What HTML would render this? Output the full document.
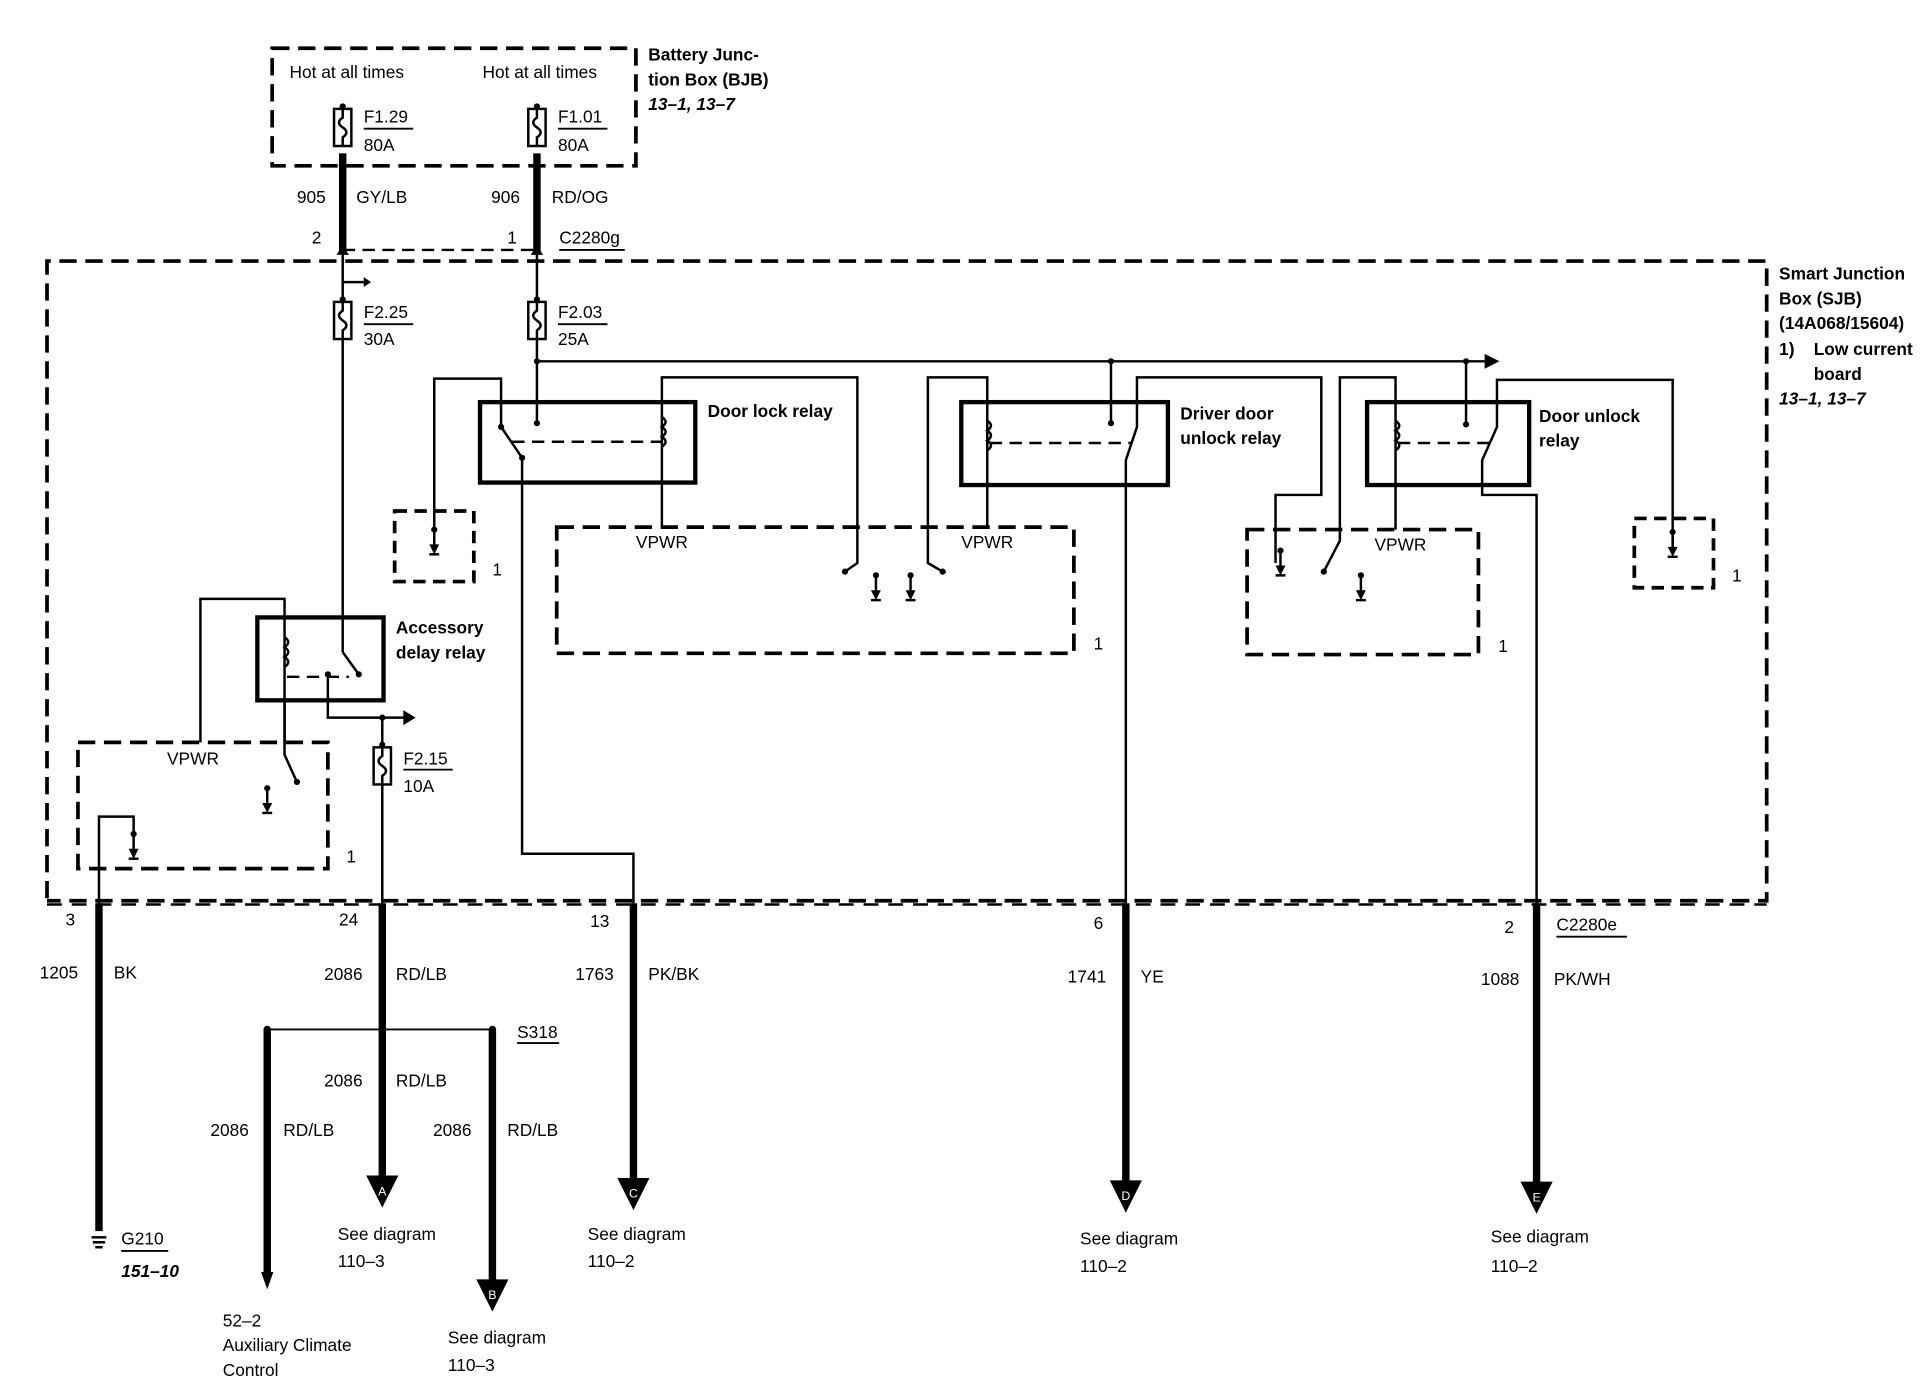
<!DOCTYPE html>
<html><head><meta charset="utf-8"><style>
html,body{margin:0;padding:0;background:#fff}
svg{display:block}
text{font-family:"Liberation Sans",sans-serif;font-size:14px;fill:#000}
.b{font-weight:bold}
.i{font-weight:bold;font-style:italic}
</style></head><body>
<svg width="1930" height="1392" viewBox="0 0 1560 1125" preserveAspectRatio="none" xmlns="http://www.w3.org/2000/svg">
<defs>
<g id="fuse"><circle cx="0" cy="-2" r="2.5" fill="#000"/><rect x="-7" y="0" width="14" height="30" fill="#fff" stroke="#000" stroke-width="2"/><path d="M0,0 V7 Q-6,11 0,15 Q6,19 0,23 V30" fill="none" stroke="#000" stroke-width="2"/></g>
<g id="gnd"><circle cx="0" cy="0" r="2.5" fill="#000"/><line x1="0" y1="0" x2="0" y2="16" stroke="#000" stroke-width="2"/><path d="M-4,12 L4,12 L0,20 Z" fill="#000"/><line x1="-4" y1="20" x2="4" y2="20" stroke="#000" stroke-width="2"/></g>
<g id="arr"><path d="M-13,0 L13,0 L0,26 Z" fill="#000"/></g>
</defs>
<g fill="none" stroke="#000">
<!-- BJB -->
<rect x="220" y="39" width="294" height="95" stroke-width="3" stroke-dasharray="14,7"/>
<!-- SJB -->
<path d="M38,726 V211 H1428 V728 H38" stroke-width="3" stroke-dasharray="14,7"/>
<line x1="38" y1="731" x2="1428" y2="731" stroke-width="2" stroke-dasharray="12,8"/>
<!-- thick feeds -->
<line x1="277" y1="124" x2="277" y2="204" stroke-width="6"/>
<line x1="434" y1="124" x2="434" y2="204" stroke-width="6"/>
<line x1="277" y1="202" x2="434" y2="202" stroke-width="2" stroke-dasharray="10,6"/>
<line x1="277" y1="204" x2="277" y2="242" stroke-width="2"/>
<line x1="434" y1="204" x2="434" y2="242" stroke-width="2"/>
<path d="M277,228 H294" stroke-width="2"/>
<!-- F2.25 line down -->
<line x1="277" y1="274" x2="277" y2="527" stroke-width="2"/>
<line x1="277" y1="527" x2="290" y2="545" stroke-width="2"/>
<!-- F2.03 bus -->
<line x1="434" y1="274" x2="434" y2="342" stroke-width="2"/>
<line x1="434" y1="292" x2="1200" y2="292" stroke-width="2"/>
<!-- Door lock relay -->
<rect x="388" y="325" width="174" height="65" stroke-width="3.5"/>
<path d="M351,442 V306 H405 V345 L422,370 V690 H512 V730" stroke-width="2"/>
<line x1="414" y1="357" x2="535" y2="357" stroke-width="2" stroke-dasharray="10,6"/>
<path d="M535,425 V305 H693 V455 L683,462" stroke-width="2"/>
<path d="M535,337 q6,4 0,8 q6,4 0,8 q6,4 0,8" stroke-width="2"/>
<rect x="319" y="413" width="64" height="57" stroke-width="3" stroke-dasharray="10,6"/>
<rect x="450" y="426" width="418" height="102" stroke-width="3" stroke-dasharray="14,7"/>
<!-- Driver door unlock -->
<rect x="777" y="325" width="167" height="67" stroke-width="3.5"/>
<path d="M798,425 V305 H750 V455 L762,462" stroke-width="2"/>
<path d="M798,340 q6,4 0,8 q6,4 0,8 q6,4 0,8" stroke-width="2"/>
<line x1="898" y1="292" x2="898" y2="342" stroke-width="2"/>
<path d="M1031,455 V400 H1068 V305 H919 V345 L910,372 V730" stroke-width="2"/>
<line x1="800" y1="358" x2="915" y2="358" stroke-width="2" stroke-dasharray="10,6"/>
<!-- Door unlock -->
<rect x="1105" y="325" width="131" height="67" stroke-width="3.5"/>
<path d="M1128,428 V305 H1083 V437 L1070,462" stroke-width="2"/>
<path d="M1128,340 q6,4 0,8 q6,4 0,8 q6,4 0,8" stroke-width="2"/>
<line x1="1185" y1="292" x2="1185" y2="343" stroke-width="2"/>
<path d="M1352,444 V307 H1210 V345 L1198,372 V400 H1242 V730" stroke-width="2"/>
<line x1="1130" y1="358" x2="1205" y2="358" stroke-width="2" stroke-dasharray="10,6"/>
<rect x="1008" y="428" width="187" height="101" stroke-width="3" stroke-dasharray="14,7"/>
<rect x="1321" y="419" width="64" height="56" stroke-width="3" stroke-dasharray="10,6"/>
<!-- Accessory delay relay -->
<rect x="208" y="499" width="102" height="67" stroke-width="3.5"/>
<path d="M230,600 V484 H162 V600" stroke-width="2"/>
<path d="M230,515 q6,4 0,8 q6,4 0,8 q6,4 0,8" stroke-width="2"/>
<path d="M230,566 V610 L240,632" stroke-width="2"/>
<line x1="232" y1="547" x2="282" y2="547" stroke-width="2" stroke-dasharray="10,6"/>
<path d="M265,545 V580 H328" stroke-width="2"/>
<line x1="309" y1="580" x2="309" y2="604" stroke-width="2"/>
<line x1="309" y1="634" x2="309" y2="730" stroke-width="2"/>
<rect x="63" y="600" width="202" height="102" stroke-width="3" stroke-dasharray="14,7"/>
<path d="M80,730 V660 H108 V676" stroke-width="2"/>
<!-- bottom thick wires -->
<line x1="80" y1="730" x2="80" y2="995" stroke-width="6"/>
<line x1="309" y1="730" x2="309" y2="952" stroke-width="6"/>
<line x1="216" y1="832" x2="398" y2="832" stroke-width="1.5"/>
<line x1="216" y1="832" x2="216" y2="1030" stroke-width="6"/>
<line x1="398" y1="832" x2="398" y2="1036" stroke-width="6"/>
<line x1="512" y1="730" x2="512" y2="954" stroke-width="6"/>
<line x1="910" y1="730" x2="910" y2="956" stroke-width="6"/>
<line x1="1242" y1="730" x2="1242" y2="957" stroke-width="6"/>
<!-- underlines -->
<g stroke-width="1.5">
<line x1="294" y1="104" x2="334" y2="104"/><line x1="451" y1="104" x2="491" y2="104"/>
<line x1="294" y1="262" x2="334" y2="262"/><line x1="451" y1="262" x2="491" y2="262"/>
<line x1="326" y1="622" x2="366" y2="622"/>
<line x1="452" y1="202" x2="505" y2="202"/>
<line x1="1258" y1="757" x2="1315" y2="757"/>
<line x1="418" y1="843" x2="452" y2="843"/>
<line x1="98" y1="1011" x2="136" y2="1011"/>
</g>
</g>
<!-- arrowheads small -->
<path d="M294,224 L300,228 L294,232 Z" fill="#000"/>
<path d="M1200,286 L1212,292 L1200,298 Z" fill="#000"/>
<path d="M326,574 L336,580 L326,586 Z" fill="#000"/>
<path d="M272,206 L277,198 L282,206 Z M429,206 L434,198 L439,206 Z" fill="#000"/>
<g fill="#000">
<circle cx="434" cy="292" r="2.5"/><circle cx="898" cy="292" r="2.5"/><circle cx="1185" cy="292" r="2.5"/>
<circle cx="434" cy="342" r="2.5"/><circle cx="898" cy="342" r="2.5"/><circle cx="1185" cy="343" r="2.5"/>
<circle cx="422" cy="370" r="2.5"/><circle cx="405" cy="345" r="2.5"/>
<circle cx="683" cy="462" r="2.5"/><circle cx="762" cy="462" r="2.5"/><circle cx="1070" cy="462" r="2.5"/>
<circle cx="265" cy="545" r="2.5"/><circle cx="290" cy="545" r="2.5"/><circle cx="240" cy="632" r="2.5"/>
<circle cx="309" cy="580" r="2.5"/>
<circle cx="216" cy="832" r="3"/><circle cx="309" cy="832" r="3"/><circle cx="398" cy="832" r="3"/>
<path d="M211,1028 L221,1028 L216,1042 Z"/>
</g>
<use href="#fuse" x="277" y="88"/><use href="#fuse" x="434" y="88"/>
<use href="#fuse" x="277" y="244"/><use href="#fuse" x="434" y="244"/>
<use href="#fuse" x="309" y="604"/>
<use href="#gnd" x="351" y="428"/><use href="#gnd" x="708" y="465"/><use href="#gnd" x="736" y="465"/>
<use href="#gnd" x="1100" y="465"/><use href="#gnd" x="1352" y="430"/><use href="#gnd" x="216" y="637"/><use href="#gnd" x="108" y="674"/>
<use href="#gnd" x="1035" y="445"/>
<!-- G210 ground -->
<g stroke="#000" stroke-width="2"><line x1="74" y1="1000" x2="86" y2="1000"/><line x1="75" y1="1004" x2="85" y2="1004"/><line x1="77" y1="1008" x2="83" y2="1008"/></g>
<use href="#arr" x="309" y="950"/><use href="#arr" x="398" y="1034"/><use href="#arr" x="512" y="952"/>
<use href="#arr" x="910" y="954"/><use href="#arr" x="1242" y="955"/>
<g style="font-size:10px">
<text x="309" y="966" text-anchor="middle" style="fill:#fff;font-size:10px">A</text>
<text x="398" y="1050" text-anchor="middle" style="fill:#fff;font-size:10px">B</text>
<text x="512" y="968" text-anchor="middle" style="fill:#fff;font-size:10px">C</text>
<text x="910" y="970" text-anchor="middle" style="fill:#fff;font-size:10px">D</text>
<text x="1242" y="971" text-anchor="middle" style="fill:#fff;font-size:10px">E</text>
</g>
<!-- Text -->
<text x="234" y="63">Hot at all times</text><text x="390" y="63">Hot at all times</text>
<text class="b" x="524" y="49">Battery Junc-</text><text class="b" x="524" y="69">tion Box (BJB)</text><text class="i" x="524" y="89">13–1, 13–7</text>
<text x="294" y="99">F1.29</text><text x="294" y="122">80A</text>
<text x="451" y="99">F1.01</text><text x="451" y="122">80A</text>
<text x="240" y="164">905</text><text x="288" y="164">GY/LB</text>
<text x="397" y="164">906</text><text x="446" y="164">RD/OG</text>
<text x="252" y="197">2</text><text x="410" y="197">1</text><text x="452" y="197">C2280g</text>
<text class="b" x="1438" y="226">Smart Junction</text><text class="b" x="1438" y="246">Box (SJB)</text>
<text class="b" x="1438" y="266">(14A068/15604)</text><text class="b" x="1438" y="287">1)</text><text class="b" x="1466" y="287">Low current</text>
<text class="b" x="1466" y="307">board</text><text class="i" x="1438" y="327">13–1, 13–7</text>
<text x="294" y="257">F2.25</text><text x="294" y="279">30A</text>
<text x="451" y="257">F2.03</text><text x="451" y="279">25A</text>
<text class="b" x="572" y="337">Door lock relay</text>
<text class="b" x="954" y="339">Driver door</text><text class="b" x="954" y="359">unlock relay</text>
<text class="b" x="1244" y="341">Door unlock</text><text class="b" x="1244" y="361">relay</text>
<text x="514" y="443">VPWR</text><text x="777" y="443">VPWR</text><text x="1111" y="445">VPWR</text>
<text x="398" y="465">1</text><text x="884" y="525">1</text><text x="1211" y="527">1</text><text x="1400" y="470">1</text>
<text class="b" x="320" y="512">Accessory</text><text class="b" x="320" y="532">delay relay</text>
<text x="135" y="618">VPWR</text><text x="280" y="697">1</text>
<text x="326" y="618">F2.15</text><text x="326" y="640">10A</text>
<text x="53" y="748">3</text><text x="274" y="748">24</text><text x="477" y="749">13</text><text x="884" y="751">6</text><text x="1216" y="754">2</text><text x="1258" y="752">C2280e</text>
<text x="32" y="791">1205</text><text x="92" y="791">BK</text>
<text x="262" y="792">2086</text><text x="320" y="792">RD/LB</text>
<text x="465" y="792">1763</text><text x="524" y="792">PK/BK</text>
<text x="863" y="794">1741</text><text x="922" y="794">YE</text>
<text x="1197" y="796">1088</text><text x="1256" y="796">PK/WH</text>
<text x="418" y="839">S318</text>
<text x="262" y="878">2086</text><text x="320" y="878">RD/LB</text>
<text x="170" y="918">2086</text><text x="229" y="918">RD/LB</text>
<text x="350" y="918">2086</text><text x="410" y="918">RD/LB</text>
<text x="98" y="1006">G210</text><text class="i" x="98" y="1032">151–10</text>
<text x="273" y="1002">See diagram</text><text x="273" y="1024">110–3</text>
<text x="475" y="1002">See diagram</text><text x="475" y="1024">110–2</text>
<text x="873" y="1006">See diagram</text><text x="873" y="1028">110–2</text>
<text x="1205" y="1004">See diagram</text><text x="1205" y="1028">110–2</text>
<text x="180" y="1072">52–2</text><text x="180" y="1092">Auxiliary Climate</text><text x="180" y="1112">Control</text>
<text x="362" y="1086">See diagram</text><text x="362" y="1108">110–3</text>
</svg>
</body></html>
